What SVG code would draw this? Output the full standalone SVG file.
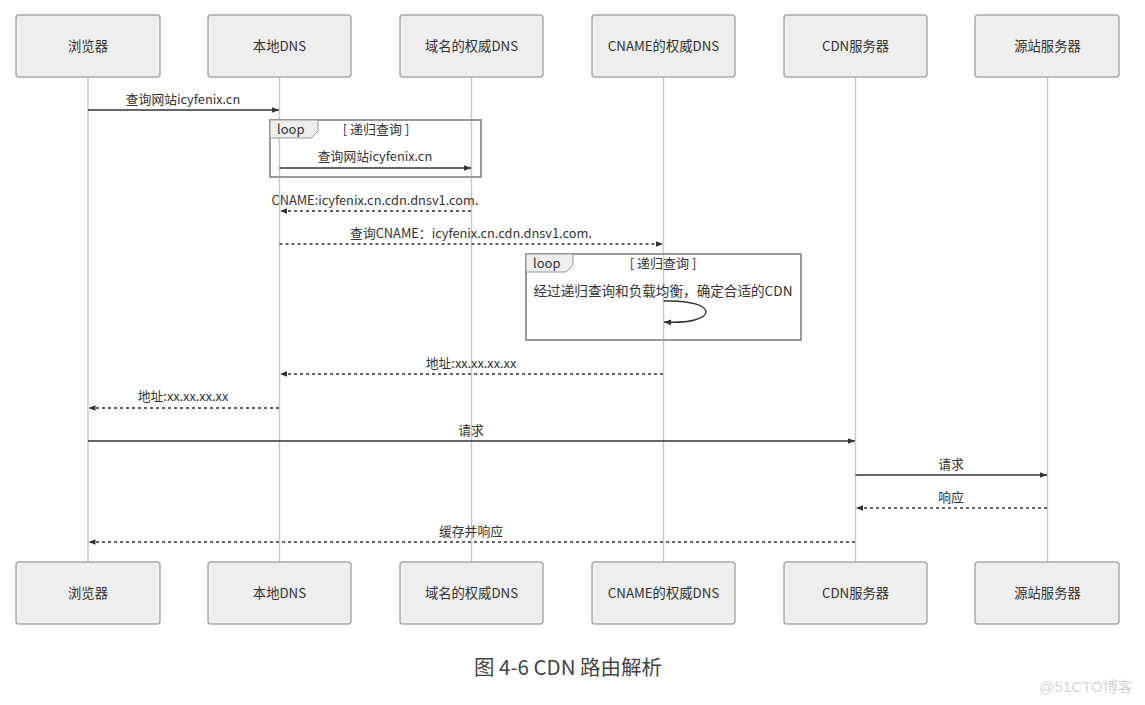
<svg xmlns="http://www.w3.org/2000/svg" width="1145" height="705" viewBox="0 0 1145 705">
<style>
.box{fill:#eeeeee;stroke:#aaaaaa;stroke-width:1.5}
.nt{font-family:"Noto Sans CJK SC","Liberation Sans",sans-serif;font-size:13.3px;fill:#333;text-anchor:middle}
.life{stroke:#c8c8c8;stroke-width:1.5}
.msg{stroke:#333;stroke-width:1.5;fill:none}
.dash{stroke-dasharray:3,3}
.lt{font-family:"Noto Sans CJK SC","Liberation Sans",sans-serif;font-size:12.8px;fill:#333;text-anchor:middle}
.frame{fill:none;stroke:#999;stroke-width:2}
.tab{fill:#eeeeee;stroke:#999;stroke-width:1}
.ft{font-family:"Noto Sans CJK SC","Liberation Sans",sans-serif;font-size:13px;fill:#333}
</style>
<defs>
<marker id="ah" viewBox="0 0 10 10" refX="10" refY="5" markerWidth="10" markerHeight="7" markerUnits="userSpaceOnUse" orient="auto">
<path d="M0,1 L10,5 L0,9 z" fill="#333"/>
</marker>
</defs>
<rect width="1145" height="705" fill="#fff"/>
<g id="lifelines">
<line class="life" x1="88" y1="77" x2="88" y2="562"/>
<line class="life" x1="279.5" y1="77" x2="279.5" y2="562"/>
<line class="life" x1="471.5" y1="77" x2="471.5" y2="562"/>
<line class="life" x1="663.5" y1="77" x2="663.5" y2="562"/>
<line class="life" x1="855.5" y1="77" x2="855.5" y2="562"/>
<line class="life" x1="1047.5" y1="77" x2="1047.5" y2="562"/>
</g>
<g id="node-browser">
<rect class="box" x="16" y="15" width="144" height="62" rx="3"/><text class="nt" x="88" y="51">浏览器</text>
<rect class="box" x="16" y="562" width="144" height="62" rx="3"/><text class="nt" x="88" y="598">浏览器</text>
</g>
<g id="node-localdns">
<rect class="box" x="208" y="15" width="143" height="62" rx="3"/><text class="nt" x="279.5" y="51">本地DNS</text>
<rect class="box" x="208" y="562" width="143" height="62" rx="3"/><text class="nt" x="279.5" y="598">本地DNS</text>
</g>
<g id="node-authdns">
<rect class="box" x="400" y="15" width="143" height="62" rx="3"/><text class="nt" x="471.5" y="51">域名的权威DNS</text>
<rect class="box" x="400" y="562" width="143" height="62" rx="3"/><text class="nt" x="471.5" y="598">域名的权威DNS</text>
</g>
<g id="node-cnamedns">
<rect class="box" x="592" y="15" width="143" height="62" rx="3"/><text class="nt" x="663.5" y="51">CNAME的权威DNS</text>
<rect class="box" x="592" y="562" width="143" height="62" rx="3"/><text class="nt" x="663.5" y="598">CNAME的权威DNS</text>
</g>
<g id="node-cdn">
<rect class="box" x="784" y="15" width="143" height="62" rx="3"/><text class="nt" x="855.5" y="51">CDN服务器</text>
<rect class="box" x="784" y="562" width="143" height="62" rx="3"/><text class="nt" x="855.5" y="598">CDN服务器</text>
</g>
<g id="node-origin">
<rect class="box" x="975" y="15" width="144" height="62" rx="3"/><text class="nt" x="1047.5" y="51">源站服务器</text>
<rect class="box" x="975" y="562" width="144" height="62" rx="3"/><text class="nt" x="1047.5" y="598">源站服务器</text>
</g>
<g id="loop1">
<rect class="frame" x="270" y="120" width="211" height="57"/>
<path class="tab" d="M270,120 H318 V131 L311,138 H270 Z"/>
<text class="ft" x="277" y="134">loop</text>
<text class="ft" x="376" y="134" text-anchor="middle">[ 递归查询 ]</text>
</g>
<g id="loop2">
<rect class="frame" x="526" y="254" width="275" height="86"/>
<path class="tab" d="M526,254 H573 V265 L566,272 H526 Z"/>
<text class="ft" x="533" y="268">loop</text>
<text class="ft" x="663" y="268" text-anchor="middle">[ 递归查询 ]</text>
</g>
<g id="connectors">
<line class="msg" x1="88" y1="110" x2="279" y2="110" marker-end="url(#ah)"/>
<text class="lt" x="183" y="104">查询网站icyfenix.cn</text>
<line class="msg" x1="279.5" y1="168" x2="471" y2="168" marker-end="url(#ah)"/>
<text class="lt" x="375" y="161">查询网站icyfenix.cn</text>
<line class="msg dash" x1="471" y1="211" x2="280" y2="211" marker-end="url(#ah)"/>
<text class="lt" x="375" y="205">CNAME:icyfenix.cn.cdn.dnsv1.com.</text>
<line class="msg dash" x1="279.5" y1="244" x2="663" y2="244" marker-end="url(#ah)"/>
<text class="lt" x="471" y="238">查询CNAME：icyfenix.cn.cdn.dnsv1.com.</text>
<text class="lt" x="663" y="296" style="font-size:13.6px">经过递归查询和负载均衡，确定合适的CDN</text>
<path class="msg" d="M663.5,301 C720,299 720,325 664,322" marker-end="url(#ah)"/>
<line class="msg dash" x1="663" y1="374" x2="280" y2="374" marker-end="url(#ah)"/>
<text class="lt" x="471" y="368">地址:xx.xx.xx.xx</text>
<line class="msg dash" x1="279" y1="408" x2="88.5" y2="408" marker-end="url(#ah)"/>
<text class="lt" x="183" y="401">地址:xx.xx.xx.xx</text>
<line class="msg" x1="88" y1="441" x2="855" y2="441" marker-end="url(#ah)"/>
<text class="lt" x="471" y="435">请求</text>
<line class="msg" x1="855.5" y1="475" x2="1047" y2="475" marker-end="url(#ah)"/>
<text class="lt" x="951" y="469">请求</text>
<line class="msg dash" x1="1047" y1="508" x2="856" y2="508" marker-end="url(#ah)"/>
<text class="lt" x="951" y="502">响应</text>
<line class="msg dash" x1="855" y1="542" x2="88.5" y2="542" marker-end="url(#ah)"/>
<text class="lt" x="471" y="536">缓存并响应</text>
</g>
<text x="568" y="675" font-family="'Noto Sans CJK SC','Liberation Sans',sans-serif" font-size="20.5" fill="#444" text-anchor="middle">图 4-6 CDN 路由解析</text>
<text x="1086" y="692" font-family="'Liberation Sans','Noto Sans CJK SC',sans-serif" font-size="15" fill="#d6d6d6" text-anchor="middle">@51CTO博客</text>
</svg>
